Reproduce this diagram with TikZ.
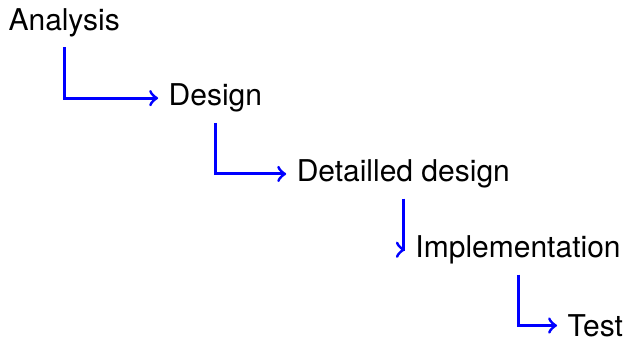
\documentclass[tikz,border=0pt]{standalone}
\usepackage{fontspec}
\setmainfont{TeX Gyre Heros}
\usetikzlibrary{positioning}

\begin{document}
\begin{tikzpicture}[
    every node/.style={inner sep=0.333em},
    flow/.style={->, line width=1pt, blue}
  ]
  \useasboundingbox (0.67pt,10pt) rectangle (209pt,-103pt);

  \node[anchor=base west] (analysis) at (0,0) {Analysis};
  \node[below right=17pt and 31.3pt of analysis.south, anchor=west] (design) {Design};
  \node[below right=17pt and 23.6pt of design.south, anchor=west] (detail) {Detailled design};
  \node[below right=17pt and 0.5pt of detail.south, anchor=west] (impl) {Implementation};
  \node[below right=17pt and 13pt of impl.south, anchor=west] (test) {Test};

  \draw[flow] (analysis.south) |- (design.west);
  \draw[flow] (design.south) |- (detail.west);
  \draw[flow] (detail.south) |- (impl.west);
  \draw[flow] (impl.south) |- (test.west);
\end{tikzpicture}
\end{document}
